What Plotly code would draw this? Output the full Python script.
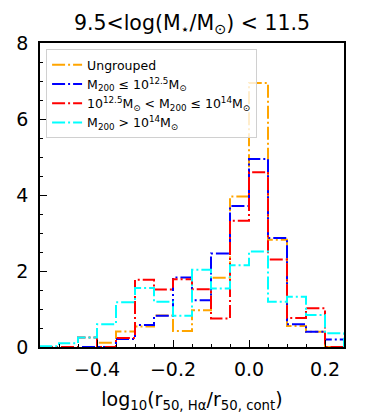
import plotly.graph_objects as go

# bin edges of the histograms (log10 r50,Ha / r50,cont)
bin_edges = [-0.55, -0.50, -0.45, -0.40, -0.35, -0.30, -0.25, -0.20,
             -0.15, -0.10, -0.05, 0.00, 0.05, 0.10, 0.15, 0.20, 0.25]

# normalised counts per bin
ungrouped = [0.0, 0.0, 0.0, 0.11, 0.41, 0.54, 0.83, 0.42,
             0.97, 1.82, 3.96, 6.95, 2.82, 0.55, 0.40, 0.0]
low_mass = [0.0, 0.0, 0.0, 0.0, 0.21, 0.58, 0.82, 1.83,
            1.23, 2.46, 3.71, 4.95, 2.87, 0.60, 0.40, 0.20]
mid_mass = [0.0, 0.0, 0.25, 0.0, 0.24, 1.77, 1.51, 1.78,
            1.52, 0.75, 3.32, 4.60, 2.30, 0.76, 1.02, 0.0]
high_mass = [0.02, 0.10, 0.25, 0.60, 1.18, 1.55, 1.19, 0.82,
             2.03, 1.54, 2.15, 2.51, 1.19, 1.32, 0.84, 0.36]

series_names = [
    'Ungrouped',
    'M<sub>200</sub> ≤ 10<sup>12.5</sup>M<sub>⊙</sub>',
    '10<sup>12.5</sup>M<sub>⊙</sub> &lt; M<sub>200</sub> ≤ 10<sup>14</sup>M<sub>⊙</sub>',
    'M<sub>200</sub> &gt; 10<sup>14</sup>M<sub>⊙</sub>',
]
series_values = [ungrouped, low_mass, mid_mass, high_mass]
series_colors = ['orange', 'blue', 'red', 'cyan']

FONT = 'DejaVu Sans'

# the page body keeps its default 8px margin, so the figure is 8px smaller
PAGE_PAD = 8

fig = go.Figure()

for name, values, color in zip(series_names, series_values, series_colors):
    # step outline like histtype='step': closes down to zero at both ends
    xs = [bin_edges[0]] + bin_edges
    ys = [0] + values + [0]
    fig.add_trace(go.Scatter(
        x=xs,
        y=ys,
        mode='lines',
        line=dict(shape='hv', color=color, width=2, dash='13px,3px,2px,3px'),
        name=name
    ))

axis_common = dict(
    showline=True,
    linecolor='black',
    linewidth=1.5,
    mirror=True,
    showgrid=False,
    zeroline=False,
    automargin=False,
    ticks='inside',
    ticklen=7,
    tickwidth=1.2,
    tickcolor='black',
    tickfont=dict(family=FONT, size=19, color='black'),
)

fig.update_layout(
    width=382 - PAGE_PAD,
    height=413 - PAGE_PAD,
    margin=dict(l=40 - PAGE_PAD, r=38, t=43 - PAGE_PAD, b=66),
    plot_bgcolor='white',
    paper_bgcolor='white',
    font=dict(family=FONT, color='black'),
    title=dict(
        text='9.5&lt;log(M<sub>⋆</sub>/M<sub>⊙</sub>) &lt; 11.5',
        x=0.5,
        xref='paper',
        xanchor='center',
        y=1 - 15 / 405,
        yref='container',
        yanchor='middle',
        font=dict(family=FONT, size=20.5, color='black')
    ),
    xaxis=dict(
        range=[-0.55, 0.25],
        tickvals=[-0.4, -0.2, 0.0, 0.2],
        ticktext=['−0.4', '−0.2', '0.0', '0.2'],
        ticklabelstandoff=4,
        minor=dict(dtick=0.05, tick0=0, ticks='inside', ticklen=3.5,
                   tickwidth=1, tickcolor='black'),
        title=dict(
            text='log<sub>10</sub>(r<sub>50, Hα</sub>/r<sub>50, cont</sub>)',
            font=dict(family=FONT, size=19, color='black'),
            standoff=14
        ),
        **axis_common
    ),
    yaxis=dict(
        range=[0, 8],
        tickvals=[0, 2, 4, 6, 8],
        ticklabelstandoff=6,
        minor=dict(dtick=0.5, tick0=0, ticks='inside', ticklen=3.5,
                   tickwidth=1, tickcolor='black'),
        **axis_common
    ),
    legend=dict(
        x=0.02,
        y=0.98,
        xanchor='left',
        yanchor='top',
        bgcolor='rgba(255,255,255,0.8)',
        bordercolor='#d0d0d0',
        borderwidth=1,
        font=dict(family=FONT, size=12.5, color='black'),
        tracegroupgap=0
    ),
    showlegend=True
)

fig.write_html("out.html")
